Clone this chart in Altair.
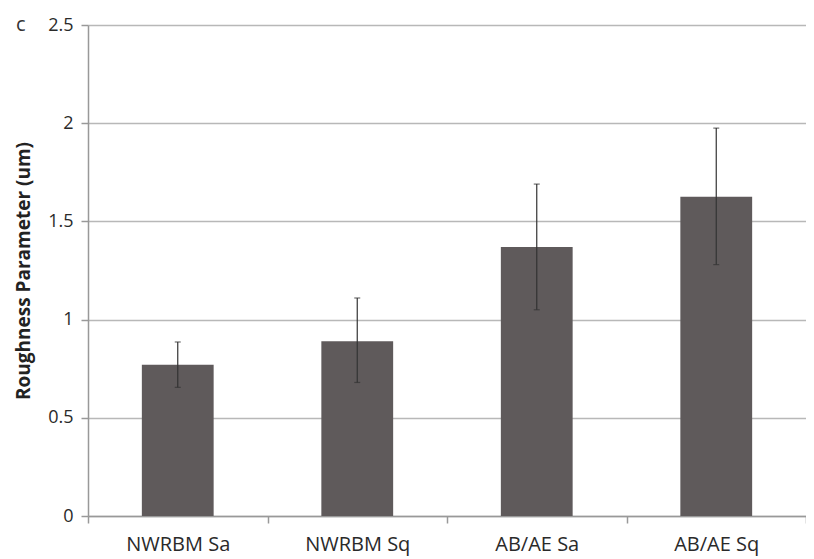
import altair as alt
import pandas as pd

categories = ["NWRBM Sa", "NWRBM Sq", "AB/AE Sa", "AB/AE Sq"]
values = [0.77, 0.89, 1.37, 1.625]
err_low = [0.655, 0.68, 1.05, 1.28]
err_high = [0.886, 1.11, 1.69, 1.975]

df = pd.DataFrame({"cat": categories, "val": values, "lo": err_low, "hi": err_high})

FONT = "Open Sans"
x = alt.X("cat:N", sort=categories, title=None,
          scale=alt.Scale(paddingInner=0, paddingOuter=0),
          axis=alt.Axis(labelAngle=0, labelFontSize=20, labelColor="#2a2a2a",
                        labelFont=FONT, labelPadding=11, tickBand="extent",
                        tickSize=7, tickColor="#999999", domainColor="#999999",
                        domainWidth=1.5, tickWidth=1.5, grid=False))
y_scale = alt.Scale(domain=[0, 2.5], nice=False)

bars = alt.Chart(df).mark_bar(color="#5f5a5b", width=alt.RelativeBandSize(0.4)).encode(
    x=x,
    y=alt.Y("val:Q", scale=y_scale, title="Roughness Parameter (um)",
            axis=alt.Axis(values=[0, 0.5, 1, 1.5, 2, 2.5], format="~g", labelFontSize=18,
                          labelColor="#2a2a2a", labelFont=FONT, labelPadding=8,
                          tickSize=7, tickColor="#999999", tickWidth=1.5,
                          domainColor="#999999", domainWidth=1.5,
                          gridColor="#b8b8b8", gridWidth=1.5,
                          titleFont=FONT, titleFontSize=19, titleFontWeight="bold",
                          titleColor="#222222", titleX=-55)),
)

rules = alt.Chart(df).mark_rule(color="#333333", strokeWidth=1.2).encode(
    x=alt.X("cat:N", sort=categories), y="lo:Q", y2="hi:Q")
caps_lo = alt.Chart(df).mark_tick(color="#333333", size=6, thickness=1.2, orient="horizontal").encode(
    x=alt.X("cat:N", sort=categories), y="lo:Q")
caps_hi = alt.Chart(df).mark_tick(color="#333333", size=6, thickness=1.2, orient="horizontal").encode(
    x=alt.X("cat:N", sort=categories), y="hi:Q")

label = alt.Chart(pd.DataFrame({"t": ["c"]})).mark_text(
    font=FONT, fontSize=20, color="#333333", align="left", baseline="middle").encode(
    text="t:N", x=alt.value(-72), y=alt.value(0))

chart = alt.layer(bars, rules, caps_lo, caps_hi, label).properties(
    width=718, height=491,
    autosize=alt.AutoSizeParams(type="none"),
    padding={"left": 80, "top": 17, "right": 0, "bottom": 42},
).configure_view(stroke=None).configure_axisX(grid=False)

chart.save("out.html", embed_options={"renderer": "svg", "actions": False})
